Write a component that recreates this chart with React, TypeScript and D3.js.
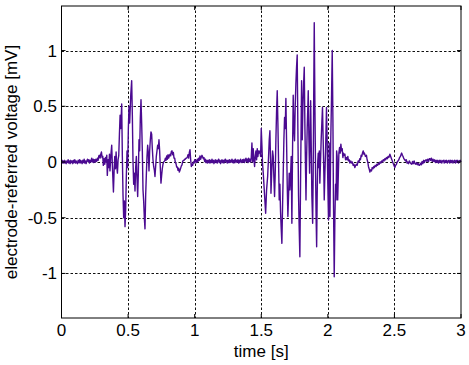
import React from "react";
import * as d3 from "d3";

const xTicks = [0, 0.5, 1, 1.5, 2, 2.5, 3];
const yTicks = [-1, -0.5, 0, 0.5, 1];
const xLabel = "time [s]";
const yLabel = "electrode-referred voltage [mV]";

// [time (s), voltage (mV)]
const baselineA: [number, number][] = [
  [0, 0], [0.005, 0.015], [0.01, -0.01], [0.015, 0.01], [0.02, -0.01], [0.025, 0.015], [0.03, -0.005], [0.035, -0.015],
  [0.04, 0.01], [0.045, -0.005], [0.05, 0.02], [0.055, -0.01], [0.06, 0.01], [0.065, -0.015], [0.07, 0.015], [0.075, -0.005],
  [0.08, 0.01], [0.085, -0.015], [0.09, 0.015], [0.095, -0.005], [0.1, 0.02], [0.105, -0.01], [0.11, 0.01], [0.115, -0.005],
  [0.12, -0.015], [0.125, 0.015], [0.13, -0.005], [0.135, 0.02], [0.14, -0.01], [0.145, 0.015], [0.15, 0.0], [0.155, -0.015],
  [0.16, 0.015], [0.165, -0.005], [0.17, 0.025], [0.175, -0.01], [0.18, 0.01], [0.185, -0.015], [0.19, 0.01], [0.195, 0.025],
  [0.2, 0.005], [0.205, 0.02], [0.21, -0.01], [0.215, 0.015], [0.22, 0.0], [0.227, 0.035], [0.232, 0.0], [0.238, 0.025],
  [0.243, -0.005], [0.248, 0.02], [0.253, 0.0], [0.258, 0.025], [0.264, 0.005], [0.27, 0.035], [0.275, 0.015], [0.28, 0.055],
  [0.284, 0.06], [0.29, 0.035], [0.295, 0.07],
];

const burst1: [number, number][] = [
  [0.3, 0.09], [0.305, 0.04], [0.31, 0.05], [0.314, -0.03], [0.32, 0.03], [0.325, -0.02], [0.33, 0.04], [0.335, 0],
  [0.34, 0.06], [0.344, -0.12], [0.35, 0.02], [0.355, -0.05], [0.36, 0.07], [0.364, -0.08], [0.37, 0.05], [0.377, 0.15],
  [0.382, -0.03], [0.386, -0.15], [0.39, -0.27], [0.395, -0.08], [0.4, 0.05], [0.405, -0.06], [0.41, 0.09], [0.415, -0.04],
  [0.42, -0.1], [0.425, 0.02], [0.43, 0.06], [0.435, 0.25], [0.44, 0.42], [0.445, 0.3], [0.452, 0.52], [0.457, 0.05],
  [0.462, -0.3], [0.467, -0.5], [0.472, -0.35], [0.477, -0.58], [0.482, -0.42], [0.487, -0.12], [0.492, 0.1], [0.497, -0.05],
  [0.502, 0.3], [0.507, 0.5], [0.512, 0.35], [0.52, 0.6], [0.527, 0.73], [0.532, 0.42], [0.537, 0], [0.542, -0.2],
  [0.547, -0.1], [0.552, -0.26], [0.557, -0.05], [0.562, 0.05], [0.567, -0.15], [0.572, -0.31], [0.577, -0.1], [0.582, 0.2],
  [0.587, 0.1], [0.592, 0.4], [0.597, 0.56], [0.602, 0.35], [0.607, 0.1], [0.612, -0.25], [0.617, -0.35], [0.622, -0.5],
  [0.627, -0.6], [0.632, -0.3], [0.637, -0.12], [0.642, 0.05], [0.647, 0.15], [0.652, 0.08], [0.657, -0.08], [0.662, 0.1],
  [0.667, 0.2], [0.672, 0.27], [0.677, 0.25], [0.682, 0.12], [0.687, 0.02], [0.692, -0.04], [0.697, -0.07], [0.702, -0.13],
  [0.707, -0.04], [0.712, 0.05], [0.717, 0.1], [0.722, 0.15], [0.727, 0.12], [0.732, 0.2], [0.737, 0.1], [0.742, -0.05],
  [0.747, -0.19], [0.752, -0.12], [0.757, -0.06], [0.762, -0.02], [0.767, 0],
];

const interval: [number, number][] = [
  [0.775, 0.01], [0.78, 0.035], [0.785, 0.015], [0.79, 0.055], [0.795, 0.025], [0.8, 0.065], [0.805, 0.035], [0.81, 0.055],
  [0.815, 0.07], [0.82, 0.055], [0.825, 0.095], [0.83, 0.1], [0.835, 0.065], [0.84, 0.085], [0.845, 0.035], [0.85, 0.035],
  [0.855, -0.005], [0.86, -0.015], [0.865, -0.045], [0.87, -0.045], [0.875, -0.075], [0.88, -0.055], [0.885, -0.09], [0.89, -0.075],
  [0.895, -0.055], [0.9, -0.035], [0.905, -0.025], [0.91, 0.005], [0.915, 0.015], [0.92, 0.015], [0.925, 0.025], [0.93, 0.025],
  [0.935, 0.035], [0.94, 0.035], [0.945, 0.045], [0.95, 0.065], [0.955, 0.035], [0.96, 0.085], [0.965, 0.11], [0.97, 0.02],
  [0.975, -0.04], [0.98, -0.02], [0.985, -0.03], [0.99, 0], [0.995, -0.01], [1.0, 0.02], [1.005, 0], [1.01, 0.015],
  [1.015, -0.005], [1.02, 0.025], [1.025, 0.005], [1.03, 0.035], [1.035, 0.015], [1.04, 0.055], [1.045, 0.025], [1.05, 0.045],
  [1.055, 0.06], [1.06, 0.045], [1.065, 0.03], [1.07, 0.04], [1.075, 0.005], [1.08, 0.025], [1.085, -0.005], [1.09, 0.015],
  [1.095, -0.01], [1.1, 0.015], [1.105, -0.005], [1.11, 0.02], [1.115, -0.01], [1.12, 0.015], [1.125, -0.005], [1.13, 0.025],
  [1.135, -0.005], [1.14, 0.015], [1.145, -0.015], [1.15, 0.01], [1.155, 0.02], [1.16, -0.005], [1.165, 0.015], [1.17, -0.01],
  [1.175, 0.015], [1.18, 0.025], [1.185, -0.005], [1.19, 0.015], [1.195, -0.015], [1.2, 0.01], [1.205, 0.02], [1.21, -0.005],
  [1.215, 0.015], [1.22, -0.01], [1.225, 0.015], [1.23, 0.025], [1.235, 0.0], [1.24, 0.015], [1.245, -0.01], [1.25, 0.015],
  [1.255, -0.005], [1.26, 0.02], [1.265, -0.005], [1.27, 0.015], [1.275, 0.0], [1.28, 0.025], [1.285, -0.005], [1.29, 0.015],
  [1.295, -0.01], [1.3, 0.015], [1.305, 0.025], [1.31, -0.005], [1.315, 0.015], [1.32, 0.0], [1.325, 0.02], [1.33, -0.01],
  [1.335, 0.015], [1.34, -0.005], [1.345, 0.025], [1.35, 0.005], [1.355, -0.005], [1.36, 0.02], [1.365, 0.0], [1.37, 0.025],
  [1.375, -0.005], [1.38, 0.015], [1.385, 0.035], [1.39, 0.005], [1.395, 0.025], [1.4, -0.005], [1.405, 0.035], [1.41, 0.005],
  [1.415, 0.025], [1.42, 0], [1.425, 0.04], [1.43, 0.17],
];

const burst2: [number, number][] = [
  [1.435, 0.0], [1.44, 0.12], [1.445, 0.02], [1.45, -0.04], [1.455, 0.05], [1.46, 0.1], [1.465, 0.02], [1.47, 0.12],
  [1.475, 0.05], [1.48, 0.1], [1.485, 0.08], [1.49, 0.1], [1.495, 0.05], [1.5, 0.3], [1.505, 0.15], [1.51, -0.02],
  [1.515, -0.1], [1.52, -0.2], [1.525, -0.3], [1.533, -0.46], [1.54, -0.25], [1.548, -0.13], [1.555, 0.05], [1.56, 0.2],
  [1.565, 0.28], [1.57, 0], [1.573, -0.28], [1.58, -0.05], [1.585, 0.1], [1.59, 0.05], [1.595, -0.15], [1.6, -0.31],
  [1.605, -0.1], [1.61, 0.2], [1.615, 0.45], [1.62, 0.64], [1.625, 0.35], [1.63, 0], [1.635, -0.34], [1.64, -0.2],
  [1.645, -0.45], [1.65, -0.6], [1.655, -0.73], [1.66, -0.4], [1.665, -0.1], [1.67, 0.2], [1.675, 0.4], [1.68, 0.3],
  [1.685, 0.57], [1.69, 0.2], [1.695, -0.2], [1.7, -0.49], [1.705, -0.3], [1.71, -0.1], [1.715, -0.25], [1.72, -0.13],
  [1.725, 0.05], [1.73, -0.55], [1.735, 0.1], [1.74, 0.6], [1.745, 0.3], [1.75, 0.19], [1.755, 0.5], [1.76, 0.7],
  [1.765, 0.85], [1.77, 0.96], [1.775, 0.3], [1.78, -0.3], [1.785, -0.6], [1.79, -0.85], [1.795, -0.2], [1.8, 0.4],
  [1.803, 0.73], [1.808, 0.2], [1.813, 0.5], [1.818, 0.7], [1.823, 0.85], [1.828, 0.3], [1.833, -0.1], [1.836, -0.34],
  [1.84, 0], [1.845, 0.3], [1.85, 0.5], [1.853, 0.64], [1.858, 0.2], [1.863, -0.1], [1.868, 0.3], [1.871, 0.55],
  [1.876, 0.1], [1.88, -0.3], [1.886, -0.55], [1.89, -0.1], [1.894, 0.6], [1.898, 1.25], [1.903, 0.5], [1.908, -0.1],
  [1.912, -0.5], [1.916, -0.76], [1.92, -0.3], [1.924, 0], [1.928, 0.08], [1.932, -0.05], [1.936, 0.1], [1.94, -0.19],
  [1.945, 0], [1.95, 0.2], [1.955, 0.35], [1.96, 0.49], [1.965, 0.2], [1.97, -0.1], [1.973, -0.34], [1.978, -0.1],
  [1.983, 0.1], [1.99, 0.49], [1.995, 0.19], [2.0, -0.2], [2.005, -0.52], [2.01, 0.17], [2.016, -0.49], [2.022, 0.2],
  [2.028, 0.6], [2.033, 1.0], [2.038, 0.4], [2.042, -0.3], [2.048, -1.03], [2.053, -0.5], [2.058, -0.2], [2.062, -0.34],
  [2.066, 0.1], [2.07, 0.05], [2.074, -0.34], [2.079, -0.1], [2.083, 0.08], [2.088, 0.13], [2.093, 0.08], [2.098, 0.16],
  [2.103, 0.1], [2.108, 0.12], [2.113, 0.04], [2.118, 0.08], [2.123, 0.06], [2.128, 0.07], [2.133, 0.02],
];

const tail: [number, number][] = [
  [2.14, 0.04], [2.145, 0.02], [2.15, 0.05], [2.155, 0.01], [2.16, 0.02], [2.166, -0.01], [2.172, 0.01], [2.178, -0.01],
  [2.184, 0], [2.19, -0.03], [2.196, -0.02], [2.203, -0.05], [2.209, -0.03], [2.215, -0.02], [2.22, -0.03], [2.228, 0.01],
  [2.234, 0.0], [2.24, 0.03], [2.245, 0.02], [2.25, 0.06], [2.255, 0.05], [2.26, 0.08], [2.266, 0.1], [2.271, 0.07],
  [2.275, 0.08], [2.282, 0.05], [2.29, 0.06], [2.295, 0.02], [2.3, 0], [2.305, -0.04], [2.31, -0.06], [2.316, -0.09],
  [2.322, -0.07], [2.328, -0.08], [2.333, -0.05], [2.339, -0.06], [2.345, -0.04], [2.35, -0.05], [2.356, -0.03], [2.362, -0.04],
  [2.368, -0.02], [2.374, -0.03], [2.38, -0.01], [2.386, -0.02], [2.392, 0], [2.398, -0.01], [2.404, 0.01], [2.41, 0],
  [2.416, 0.02], [2.422, 0.01], [2.428, 0.03], [2.434, 0.02], [2.44, 0.04], [2.446, 0.03], [2.452, 0.05], [2.458, 0.04],
  [2.466, 0.07], [2.472, 0.05], [2.478, 0.03], [2.484, 0.01], [2.49, -0.01], [2.496, -0.03], [2.503, -0.05], [2.509, -0.03],
  [2.515, -0.02], [2.521, 0], [2.527, 0.01], [2.533, 0.02], [2.539, 0.04], [2.545, 0.05], [2.554, 0.08], [2.56, 0.06],
  [2.565, 0.05], [2.571, 0.03], [2.577, 0.02], [2.583, 0.01], [2.589, 0.02], [2.595, -0.01], [2.6, 0], [2.606, -0.015],
  [2.612, 0.01], [2.618, -0.005], [2.624, -0.015], [2.63, -0.02], [2.636, 0.005], [2.642, -0.015], [2.648, 0.01], [2.654, -0.015],
  [2.66, -0.02], [2.666, -0.005], [2.672, -0.025], [2.678, -0.01], [2.684, -0.03], [2.69, -0.03], [2.696, -0.01], [2.702, -0.025],
  [2.708, 0.005], [2.714, -0.015], [2.72, 0.015], [2.726, -0.005], [2.732, 0.015], [2.738, 0.02], [2.744, 0.005], [2.75, 0.025],
  [2.756, 0.005], [2.762, 0.03], [2.766, 0.03], [2.772, 0.015], [2.778, 0.035], [2.784, 0.005], [2.79, 0.025], [2.796, 0.005],
  [2.802, 0.02], [2.808, -0.005], [2.814, 0.015], [2.82, -0.005], [2.826, 0.015], [2.832, -0.01], [2.838, 0.015], [2.844, -0.005],
  [2.85, 0.015], [2.856, -0.01], [2.862, 0.01], [2.868, 0.015], [2.874, -0.01], [2.88, 0.015], [2.886, -0.005], [2.892, 0.015],
  [2.898, -0.01], [2.904, 0.01], [2.91, 0.015], [2.916, -0.01], [2.922, 0.015], [2.928, -0.005], [2.934, 0.015], [2.94, -0.01],
  [2.946, 0.01], [2.952, 0.015], [2.958, -0.01], [2.964, 0.015], [2.97, -0.005], [2.976, 0.015], [2.982, -0.01], [2.988, 0.01],
  [2.994, 0.015], [3.0, 0],
];

const W = 469;
const H = 365;
const plot = { left: 61.5, right: 461, top: 6, bottom: 318 };
const FONT = "Arial, 'Liberation Sans', Helvetica, sans-serif";
const LINE_COLOR = "#4b0a91";

export default function App() {
  const x = d3.scaleLinear().domain([0, 3]).range([plot.left, plot.right]);
  const y = d3.scaleLinear().domain([-1.4, 1.4]).range([plot.bottom, plot.top]);
  const data = [...baselineA, ...burst1, ...interval, ...burst2, ...tail];
  const line = d3
    .line<[number, number]>()
    .x((d) => x(d[0]))
    .y((d) => y(d[1]));
  const fmt = (v: number) => String(v);
  const tickLen = 4;

  return (
    <svg
      width={W}
      height={H}
      style={{ position: "fixed", left: 0, top: 0, background: "#fff" }}
      fontFamily={FONT}
    >
      <rect x={0} y={0} width={W} height={H} fill="#fff" />
      {xTicks
        .filter((t) => t > 0 && t < 3)
        .map((t) => (
          <line
            key={"gx" + t}
            x1={Math.round(x(t)) + 0.5}
            x2={Math.round(x(t)) + 0.5}
            y1={plot.top}
            y2={plot.bottom}
            stroke="#111"
            strokeWidth={1}
            strokeDasharray="2.5,2"
          />
        ))}
      {yTicks.map((t) => (
        <line
          key={"gy" + t}
          x1={plot.left}
          x2={plot.right}
          y1={Math.round(y(t)) + 0.5}
          y2={Math.round(y(t)) + 0.5}
          stroke="#111"
          strokeWidth={1}
          strokeDasharray="2.5,2"
        />
      ))}
      <path d={line(data) || ""} fill="none" stroke={LINE_COLOR} strokeWidth={1.4} strokeLinejoin="round" />
      <rect
        x={plot.left}
        y={plot.top}
        width={plot.right - plot.left}
        height={plot.bottom - plot.top}
        fill="none"
        stroke="#000"
        strokeWidth={1}
      />
      {xTicks.map((t) => (
        <g key={"tx" + t}>
          <line x1={x(t)} x2={x(t)} y1={plot.bottom} y2={plot.bottom - tickLen} stroke="#000" />
          <line x1={x(t)} x2={x(t)} y1={plot.top} y2={plot.top + tickLen} stroke="#000" />
          <text x={x(t)} y={336} textAnchor="middle" fontSize={17} fill="#000">
            {fmt(t)}
          </text>
        </g>
      ))}
      {yTicks.map((t) => (
        <g key={"ty" + t}>
          <line x1={plot.left} x2={plot.left + tickLen} y1={y(t)} y2={y(t)} stroke="#000" />
          <line x1={plot.right} x2={plot.right - tickLen} y1={y(t)} y2={y(t)} stroke="#000" />
          <text x={57} y={y(t)} dy="0.35em" textAnchor="end" fontSize={17} fill="#000">
            {fmt(t)}
          </text>
        </g>
      ))}
      <text x={(plot.left + plot.right) / 2} y={357} textAnchor="middle" fontSize={17} fill="#000">
        {xLabel}
      </text>
      <text
        transform={`translate(17, ${(plot.top + plot.bottom) / 2}) rotate(-90)`}
        textAnchor="middle"
        fontSize={17}
        fill="#000"
      >
        {yLabel}
      </text>
    </svg>
  );
}
